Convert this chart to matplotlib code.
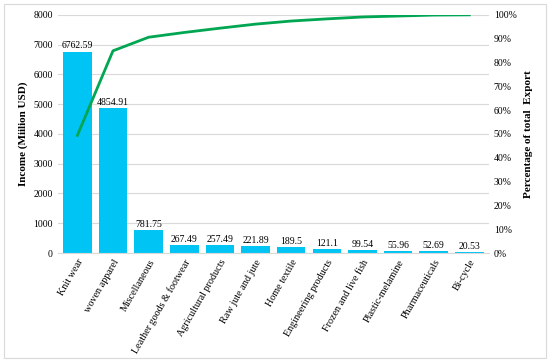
import matplotlib
matplotlib.use("Agg")
import matplotlib.pyplot as plt
from matplotlib.patches import Rectangle
from matplotlib.ticker import PercentFormatter

categories = ["Knit wear", "woven apparel", "Miscellaneous", "Leather goods & footwear",
              "Agricultural products", "Raw jute and jute", "Home textile",
              "Engineering products", "Frozen and live fish", "Plastic-melamine",
              "Pharmaceuticals", "Bi-cycle"]
income = [6762.59, 4854.91, 781.75, 267.49, 257.49, 221.89, 189.5, 121.1,
          99.54, 55.96, 52.69, 20.53]
cum_pct = [49.4, 84.9, 90.6, 92.6, 94.4, 96.1, 97.4, 98.3, 99.1, 99.5, 99.9, 100.0]
value_labels = ["6762.59", "4854.91", "781.75", "267.49", "257.49", "221.89",
                "189.5", "121.1", "99.54", "55.96", "52.69", "20.53"]

plt.rcParams["font.family"] = ["Liberation Serif", "DejaVu Serif"]

fig = plt.figure(figsize=(5.5, 3.62), dpi=100)
fig.patches.append(Rectangle((0.008, 0.012), 0.984, 0.976, transform=fig.transFigure,
                             fill=False, edgecolor="#d9d9d9", linewidth=0.8))
ax = fig.add_axes([0.105, 0.301, 0.784, 0.658])
x = range(len(categories))
bars = ax.bar(x, income, width=0.8, color="#00c4f4", zorder=2)
for b, lab in zip(bars, value_labels):
    ax.text(b.get_x() + b.get_width() / 2, b.get_height() + 40, lab,
            ha="center", va="bottom", fontsize=7)
ax.set_ylim(0, 8000)
ax.set_xlim(-0.55, len(categories) - 0.45)
ax.set_yticks(range(0, 8001, 1000))
ax.grid(axis="y", color="#d9d9d9", linewidth=0.8, zorder=0)
for s in ["top", "left", "right"]:
    ax.spines[s].set_visible(False)
ax.spines["bottom"].set_color("#d9d9d9")
ax.tick_params(length=0, labelsize=7)
ax.set_xticks(list(x))
ax.set_xticklabels(categories, rotation=60, ha="right", rotation_mode="anchor", fontsize=7.3)
ax.set_ylabel("Income (Miilion USD)", fontsize=8, fontweight="bold")

ax2 = ax.twinx()
ax2.plot(list(x), cum_pct, color="#00a651", linewidth=2, zorder=3)
ax2.set_ylim(0, 100)
ax2.set_yticks(range(0, 101, 10))
ax2.yaxis.set_major_formatter(PercentFormatter(decimals=0))
for s in ["top", "left", "right", "bottom"]:
    ax2.spines[s].set_visible(False)
ax2.tick_params(length=0, labelsize=7)
ax2.set_ylabel("Percentage of total  Export", fontsize=8, fontweight="bold", labelpad=5)

fig.savefig("out.png", dpi=100)
